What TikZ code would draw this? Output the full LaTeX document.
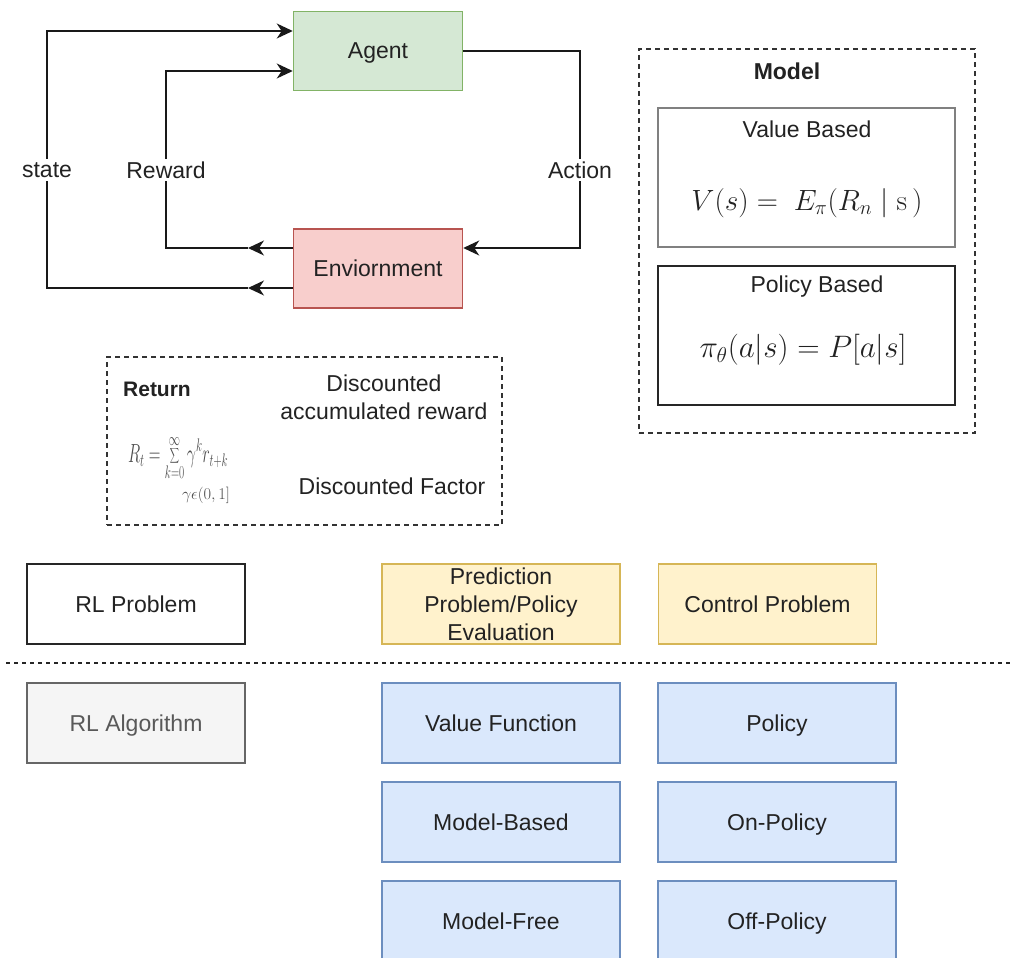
\documentclass[tikz,border=0pt]{standalone}
\usepackage[no-math]{fontspec}
\setmainfont{Liberation Sans}
\usepackage{graphicx}
\usetikzlibrary{arrows.meta}
\definecolor{agentfill}{HTML}{D5E8D4}\definecolor{agentdraw}{HTML}{82B366}
\definecolor{envfill}{HTML}{F8CECC}\definecolor{envdraw}{HTML}{B85450}
\definecolor{yelfill}{HTML}{FFF2CC}\definecolor{yeldraw}{HTML}{D6B656}
\definecolor{bluefill}{HTML}{DAE8FC}\definecolor{bluedraw}{HTML}{6C8EBF}
\definecolor{grayfill}{HTML}{F5F5F5}\definecolor{graydraw}{HTML}{666666}
\definecolor{txt}{HTML}{222222}
\tikzset{
  base/.style={font=\fontsize{23}{28}\selectfont, text=txt},
  box/.style={base, draw, line width=1.5pt, inner sep=0pt, align=center, text depth=0pt},
  agentbox/.style={box, fill=agentfill, draw=agentdraw},
  envbox/.style={box, fill=envfill, draw=envdraw},
  yelbox/.style={box, fill=yelfill, draw=yeldraw},
  bluebox/.style={box, fill=bluefill, draw=bluedraw},
  algbox/.style={box, fill=grayfill, draw=graydraw, text=black!65},
  plainbox/.style={box, fill=white, draw=black!85},
  lbl/.style={base, fill=white, inner sep=3pt},
  txtnode/.style={base, inner sep=0pt, align=center},
  arr/.style={-{Stealth[length=16pt,width=15pt,inset=5pt]}, line width=1.6pt, draw=black!90},
  dashbox/.style={draw=black!80, line width=1.3pt, dash pattern=on 5pt off 4pt},
}
\begin{document}
\begin{tikzpicture}[x=1pt,y=-1pt]
\useasboundingbox (0,0) rectangle (1010,958);

% --- Agent / Environment loop
\node[agentbox, minimum width=169pt, minimum height=79pt] (agent) at (378,51) {Agent};
\node[envbox, minimum width=169pt, minimum height=79pt] (env) at (378,268.5) {Enviornment};

\coordinate (sy) at (0,288);
\coordinate (ry) at (0,248);
\coordinate (ay1) at (0,31);
\coordinate (ay2) at (0,71);
\coordinate (sT) at (248,288);
\coordinate (rT) at (248,248);
\coordinate (sC) at (47,288);
\coordinate (rC) at (166,248);
\coordinate (aC) at (580,248);

\draw[arr] (env.west|-sy) -- (sT);
\draw[arr] (sT) -- (sC) |- (agent.west|-ay1);
\draw[arr] (env.west|-ry) -- (rT);
\draw[arr] (rT) -- (rC) |- (agent.west|-ay2);
\draw[arr] (agent.east) -| (aC) -- (env.east|-aC);

\node[lbl] (lstate) at (47,170) {state};
\node[lbl] (lreward) at (166,170) {Reward};
\node[lbl] (laction) at (580,170) {Action};

% --- Model box
\node[dashbox, minimum width=336pt, minimum height=384pt, inner sep=0pt] (model) at (807,241) {};
\node[txtnode, font=\fontsize{23}{28}\selectfont\bfseries] (modelt) at (787,71) {Model};
\node[box, draw=black!50, minimum width=297pt, minimum height=139pt] (vb) at (806.5,177.5) {};
\node[txtnode] (vbt) at (807,129) {Value Based};
\node[txtnode] (vbf) at (807,203) {\resizebox{231pt}{!}{$V(s) =\ E_\pi(R_n \mid \mathrm{s}\,)$}};
\node[box, draw=black!85, minimum width=297pt, minimum height=139pt] (pb) at (806.5,335.5) {};
\node[txtnode] (pbt) at (817,287) {Policy Based};
\node[txtnode] (pbf) at (803,350) {\resizebox{207pt}{!}{$\pi_\theta(a|s) = P[a|s]$}};

% --- Return box
\node[dashbox, minimum width=395pt, minimum height=168pt, inner sep=0pt] (ret) at (304.5,441) {};
\node[txtnode, font=\fontsize{21}{26}\selectfont\bfseries] (rett) at (157,389) {Return};
\node[txtnode] (disc) at (384,397.5) {Discounted\\accumulated reward};
\node[txtnode] (fac) at (392,486) {Discounted Factor};
\node[txtnode, text=black!70] (retf) at (178,458) {\resizebox{100pt}{26pt}{$R_t=\displaystyle\sum_{k=0}^{\infty}\gamma^k r_{t+k}$}};
\node[txtnode, text=black!70] (gam) at (206,495) {\resizebox{48pt}{!}{$\gamma\epsilon(0,1]$}};

% --- RL Problem row
\node[plainbox, minimum width=218pt, minimum height=80pt] (rlp) at (136,604) {RL Problem};
\node[yelbox, minimum width=238pt, minimum height=80pt] (pred) at (501,604) {Prediction\\Problem/Policy\\Evaluation};
\node[yelbox, minimum width=218pt, minimum height=80pt] (ctrl) at (767.5,604) {Control Problem};

\coordinate (dl) at (6,663);
\coordinate (dr) at (1010,663);
\draw[line width=1.5pt, draw=black!85, dash pattern=on 4pt off 4pt] (dl) -- (dr);

% --- RL Algorithm rows
\node[algbox, minimum width=218pt, minimum height=80pt] (rla) at (136,723) {RL Algorithm};
\node[bluebox, minimum width=238pt, minimum height=80pt] (vf) at (501,723) {Value Function};
\node[bluebox, minimum width=238pt, minimum height=80pt] (pol) at (777,723) {Policy};
\node[bluebox, minimum width=238pt, minimum height=80pt] (mb) at (501,822) {Model-Based};
\node[bluebox, minimum width=238pt, minimum height=80pt] (onp) at (777,822) {On-Policy};
\node[bluebox, minimum width=238pt, minimum height=80pt] (mf) at (501,921) {Model-Free};
\node[bluebox, minimum width=238pt, minimum height=80pt] (offp) at (777,921) {Off-Policy};
\end{tikzpicture}
\end{document}
